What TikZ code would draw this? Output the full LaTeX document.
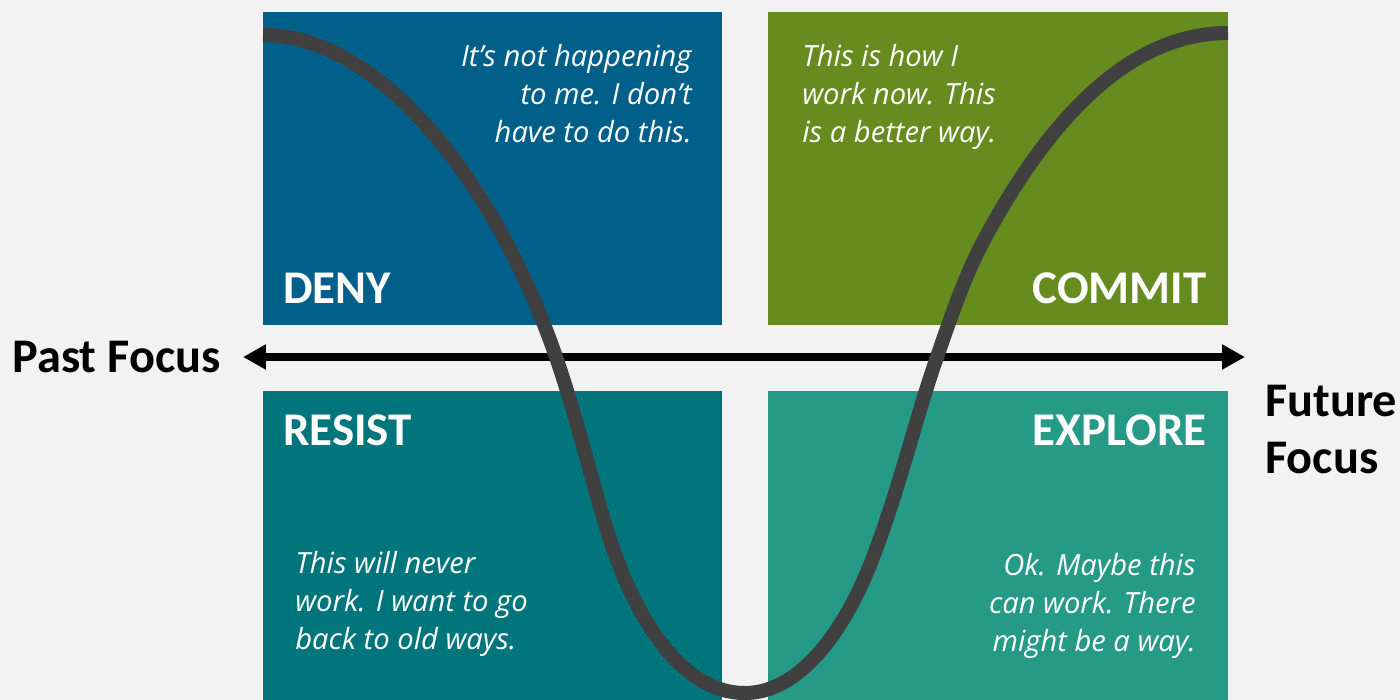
\documentclass[tikz,border=0pt]{standalone}
\usepackage{fontspec}
\usetikzlibrary{arrows.meta}
\setmainfont{Carlito}
\newfontfamily\quotefont{Open Sans}
\definecolor{paper}{HTML}{F2F2F2}
\definecolor{denyc}{HTML}{00608A}
\definecolor{commitc}{HTML}{668B1E}
\definecolor{resistc}{HTML}{00757C}
\definecolor{explorec}{HTML}{259A87}
\definecolor{curvec}{HTML}{404040}

\begin{document}
\begin{tikzpicture}[x=0.02cm,y=-0.02cm,
  stage/.style={font=\bfseries\fontsize{26.7}{32}\selectfont,text=white,inner sep=0pt},
  quote/.style={font=\quotefont\itshape\fontsize{16.6}{21.6}\selectfont,text=white,inner sep=0pt},
  axislabel/.style={font=\bfseries\fontsize{27.5}{32.4}\selectfont,inner sep=0pt}]
\fill[paper] (0,0) rectangle (1400,700);
\useasboundingbox (0,0) rectangle (1400,700);
% quadrants
\fill[denyc] (263,12) rectangle (722,325);
\fill[commitc] (768,12) rectangle (1228,325);
\fill[resistc] (263,391) rectangle (722,700);
\fill[explorec] (768,391) rectangle (1228,700);
\node[stage,anchor=base west] (deny) at (283,303) {DENY};
\node[stage,anchor=base east] (commit) at (1207,303) {COMMIT};
\node[stage,anchor=base west] (resist) at (283,445) {RESIST};
\node[stage,anchor=base east] (explore) at (1207,445) {EXPLORE};
\node[quote,anchor=north east,align=right] (denyq) at (692,44) {It’s not happening\\to me. I don’t\\have to do this.};
\node[quote,anchor=north west,align=left] (commitq) at (802,44) {This is how I\\work now. This\\is a better way.};
\node[quote,anchor=north west,align=left] (resistq) at (295,551) {This will never\\work. I want to go\\back to old ways.};
\node[quote,anchor=north east,align=right] (exploreq) at (1196,553) {Ok. Maybe this\\can work. There\\might be a way.};
% time axis
\node[axislabel,anchor=base west] (pastf) at (12,372) {Past Focus};
\node[axislabel,anchor=north west,align=left] (futuref) at (1265,385) {Future\\Focus};
\coordinate (pastend) at (243,357);
\coordinate (futureend) at (1245,357);
\draw[line width=4pt,{Triangle[length=13pt,width=13.5pt]}-{Triangle[length=13pt,width=13.5pt]}] (pastend) -- (futureend);
% change curve
\draw[curvec,line width=8pt] (263,35) .. controls (380,35) and (496,183) .. (556,357)
  .. controls (576,415) and (591,478) .. (607,530)
  .. controls (625,590) and (670,693) .. (745,693)
  .. controls (800,693) and (845,630) .. (872,560)
  .. controls (900,487) and (915,420) .. (937,357)
  .. controls (952,314) and (965,275) .. (985,238)
  .. controls (1040,136) and (1120,33) .. (1228,33);
\end{tikzpicture}
\end{document}
